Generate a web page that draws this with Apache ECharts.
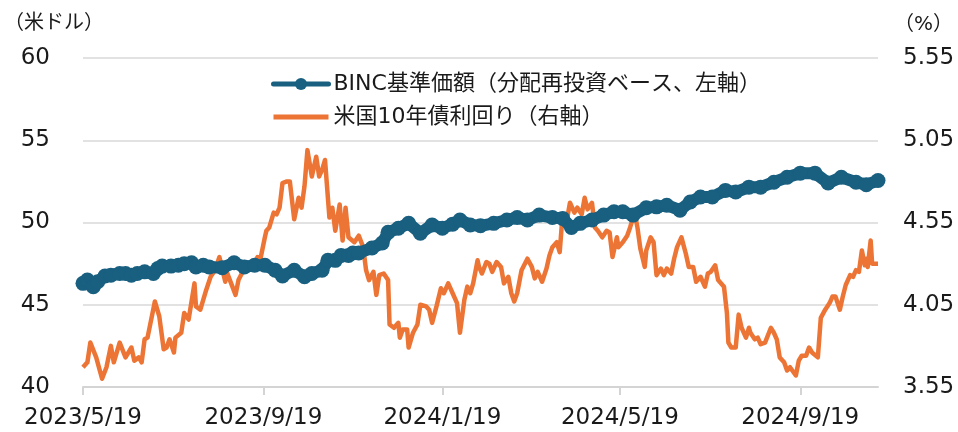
<!DOCTYPE html>
<html>
<head>
<meta charset="utf-8">
<script src="https://cdn.jsdelivr.net/npm/echarts@6/dist/echarts.min.js"></script>
<style>
  html, body { margin: 0; padding: 0; background: #fff; }
  #chart { width: 958px; height: 432px; }
</style>
</head>
<body>
<div id="chart"></div>
<script>
// BINC 基準価額（左軸, 米ドル）
var navDates = [
  '2023-05-19','2023-05-22','2023-05-26','2023-05-29','2023-06-03','2023-06-07','2023-06-13','2023-06-17',
  '2023-06-21','2023-06-25','2023-06-30','2023-07-06','2023-07-09','2023-07-12','2023-07-18','2023-07-23',
  '2023-07-27','2023-08-01','2023-08-04','2023-08-09','2023-08-13','2023-08-22','2023-08-30','2023-09-06',
  '2023-09-13','2023-09-20','2023-09-27','2023-10-02','2023-10-10','2023-10-17','2023-10-22','2023-10-29',
  '2023-11-02','2023-11-07','2023-11-11','2023-11-16','2023-11-19','2023-11-23','2023-12-02','2023-12-09',
  '2023-12-13','2023-12-20','2023-12-27','2024-01-04','2024-01-12','2024-01-19','2024-01-26','2024-01-31',
  '2024-02-07','2024-02-14','2024-02-23','2024-03-03','2024-03-10','2024-03-17','2024-03-25','2024-04-03',
  '2024-04-10','2024-04-16','2024-04-22','2024-04-30','2024-05-08','2024-05-15','2024-05-21','2024-05-28',
  '2024-06-06','2024-06-13','2024-06-20','2024-06-29','2024-07-06','2024-07-13','2024-07-21','2024-07-30',
  '2024-08-06','2024-08-15','2024-08-23','2024-09-01','2024-09-10','2024-09-19','2024-09-29','2024-10-08',
  '2024-10-17','2024-10-27','2024-11-03','2024-11-11'
];
var navValues = [
  46.3, 46.5, 46.1, 46.4, 46.75, 46.8, 46.9, 46.9,
  46.8, 46.9, 47.0, 46.9, 47.2, 47.35, 47.35, 47.4,
  47.5, 47.55, 47.3, 47.4, 47.3, 47.25, 47.55, 47.3,
  47.4, 47.4, 47.1, 46.75, 47.1, 46.7, 46.9, 47.1,
  47.7, 47.7, 48.0, 48.0, 48.15, 48.15, 48.45, 48.75,
  49.4, 49.65, 49.95, 49.35, 49.85, 49.65, 49.9, 50.15,
  49.85, 49.8, 49.95, 50.15, 50.3, 50.15, 50.45, 50.3,
  50.25, 49.7, 49.95, 50.15, 50.45, 50.65, 50.65, 50.45,
  50.9, 50.95, 51.05, 50.75, 51.25, 51.55, 51.55, 51.95,
  51.85, 52.15, 52.15, 52.45, 52.75, 53.0, 53.0, 52.4,
  52.75, 52.45, 52.3, 52.55
];

// 米国10年債利回り（右軸, %）
var yieldDates = [
  '2023-05-19','2023-05-22','2023-05-24','2023-05-28','2023-06-01','2023-06-04','2023-06-07','2023-06-09',
  '2023-06-13','2023-06-17','2023-06-21','2023-06-23','2023-06-26','2023-06-28','2023-06-30','2023-07-02',
  '2023-07-07','2023-07-10','2023-07-13','2023-07-15','2023-07-17','2023-07-20','2023-07-21','2023-07-25',
  '2023-07-27','2023-07-30','2023-08-03','2023-08-04','2023-08-07','2023-08-11','2023-08-14','2023-08-17',
  '2023-08-20','2023-08-24','2023-08-25','2023-08-28','2023-08-31','2023-09-02','2023-09-06','2023-09-08',
  '2023-09-10','2023-09-12','2023-09-15','2023-09-17','2023-09-20','2023-09-21','2023-09-23','2023-09-26',
  '2023-09-28','2023-09-30','2023-10-02','2023-10-05','2023-10-07','2023-10-10','2023-10-13','2023-10-15',
  '2023-10-17','2023-10-19','2023-10-22','2023-10-25','2023-10-27','2023-10-29','2023-10-31','2023-11-03',
  '2023-11-05','2023-11-07','2023-11-10','2023-11-12','2023-11-14','2023-11-16','2023-11-20','2023-11-23',
  '2023-11-26','2023-11-28','2023-11-30','2023-12-03','2023-12-05','2023-12-07','2023-12-10','2023-12-13',
  '2023-12-14','2023-12-17','2023-12-20','2023-12-21','2023-12-23','2023-12-26','2023-12-27','2023-12-30',
  '2024-01-02','2024-01-04','2024-01-08','2024-01-10','2024-01-12','2024-01-15','2024-01-18','2024-01-20',
  '2024-01-23','2024-01-26','2024-01-29','2024-01-31','2024-02-03','2024-02-05','2024-02-07','2024-02-09',
  '2024-02-12','2024-02-13','2024-02-15','2024-02-18','2024-02-20','2024-02-22','2024-02-25','2024-02-28',
  '2024-03-01','2024-03-04','2024-03-06','2024-03-08','2024-03-10','2024-03-13','2024-03-17','2024-03-20',
  '2024-03-22','2024-03-24','2024-03-27','2024-03-30','2024-04-01','2024-04-03','2024-04-06','2024-04-08',
  '2024-04-10','2024-04-13','2024-04-15','2024-04-18','2024-04-20','2024-04-23','2024-04-25','2024-04-27',
  '2024-04-30','2024-05-02','2024-05-04','2024-05-07','2024-05-10','2024-05-12','2024-05-14','2024-05-17',
  '2024-05-18','2024-05-21','2024-05-24','2024-05-26','2024-05-29','2024-05-31','2024-06-02','2024-06-05',
  '2024-06-06','2024-06-09','2024-06-11','2024-06-13','2024-06-16','2024-06-18','2024-06-20','2024-06-23',
  '2024-06-25','2024-06-27','2024-06-30','2024-07-03','2024-07-05','2024-07-08','2024-07-10','2024-07-13',
  '2024-07-16','2024-07-18','2024-07-20','2024-07-23','2024-07-25','2024-07-29','2024-07-31','2024-08-01',
  '2024-08-03','2024-08-06','2024-08-08','2024-08-10','2024-08-13','2024-08-15','2024-08-16','2024-08-19',
  '2024-08-21','2024-08-23','2024-08-26','2024-08-30','2024-09-01','2024-09-03','2024-09-05','2024-09-08',
  '2024-09-10','2024-09-12','2024-09-16','2024-09-18','2024-09-20','2024-09-23','2024-09-25','2024-09-27',
  '2024-10-01','2024-10-03','2024-10-06','2024-10-09','2024-10-11','2024-10-13','2024-10-16','2024-10-18',
  '2024-10-20','2024-10-23','2024-10-25','2024-10-27','2024-10-29','2024-10-31','2024-11-02','2024-11-03',
  '2024-11-04','2024-11-06','2024-11-07','2024-11-11'
];
var yieldValues = [
  3.67, 3.70, 3.82, 3.73, 3.60, 3.67, 3.80, 3.70,
  3.82, 3.73, 3.79, 3.71, 3.73, 3.70, 3.84, 3.85,
  4.07, 3.98, 3.78, 3.79, 3.84, 3.76, 3.85, 3.88,
  4.00, 3.96, 4.18, 4.04, 4.02, 4.14, 4.22, 4.26,
  4.34, 4.19, 4.25, 4.18, 4.11, 4.20, 4.27, 4.28,
  4.30, 4.29, 4.34, 4.33, 4.46, 4.50, 4.52, 4.61,
  4.60, 4.64, 4.79, 4.80, 4.80, 4.57, 4.70, 4.64,
  4.77, 4.99, 4.83, 4.95, 4.83, 4.87, 4.93, 4.58,
  4.64, 4.50, 4.66, 4.44, 4.64, 4.46, 4.43, 4.47,
  4.40, 4.26, 4.20, 4.25, 4.11, 4.23, 4.24, 4.20,
  3.93, 3.91, 3.94, 3.85, 3.90, 3.90, 3.79, 3.88,
  3.93, 4.05, 4.04, 4.02, 3.94, 4.04, 4.15, 4.12,
  4.18, 4.12, 4.06, 3.88, 4.08, 4.16, 4.12, 4.18,
  4.32, 4.28, 4.24, 4.31, 4.30, 4.25, 4.31, 4.28,
  4.18, 4.22, 4.12, 4.07, 4.12, 4.26, 4.33, 4.28,
  4.21, 4.25, 4.19, 4.27, 4.35, 4.40, 4.43, 4.37,
  4.60, 4.57, 4.67, 4.61, 4.64, 4.60, 4.70, 4.63,
  4.67, 4.52, 4.50, 4.46, 4.50, 4.49, 4.34, 4.46,
  4.40, 4.43, 4.47, 4.52, 4.61, 4.52, 4.39, 4.28,
  4.38, 4.46, 4.43, 4.23, 4.27, 4.23, 4.27, 4.24,
  4.33, 4.40, 4.46, 4.36, 4.28, 4.28, 4.19, 4.22,
  4.16, 4.24, 4.25, 4.29, 4.20, 4.16, 4.00, 3.82,
  3.79, 3.79, 3.99, 3.91, 3.85, 3.91, 3.88, 3.84,
  3.85, 3.81, 3.82, 3.91, 3.88, 3.84, 3.73, 3.70,
  3.65, 3.67, 3.62, 3.71, 3.74, 3.74, 3.79, 3.76,
  3.73, 3.97, 4.02, 4.06, 4.10, 4.10, 4.02, 4.10,
  4.17, 4.23, 4.22, 4.26, 4.25, 4.38, 4.29, 4.33,
  4.28, 4.44, 4.30, 4.30
];

var xTickDates = ['2023-05-19', '2023-09-19', '2024-01-19', '2024-05-19', '2024-09-19'];
var xEndDate = '2024-11-11';
var navName = 'BINC基準価額（分配再投資ベース、左軸）';
var yieldName = '米国10年債利回り（右軸）';

var BLUE = '#185f80';
var ORANGE = '#ec7434';
var TEXT = '#1a1a1a';
var FONT = '"DejaVu Sans", "Noto Sans CJK JP", sans-serif';

function stamp(d) { return +echarts.number.parseDate(d); }
function toPairs(dates, values) {
  return dates.map(function (d, i) { return [stamp(d), values[i]]; });
}
var tickStamps = xTickDates.map(stamp);

var chart = echarts.init(document.getElementById('chart'));
chart.setOption({
  animation: false,
  textStyle: { fontFamily: FONT, color: TEXT },
  grid: { left: 83, right: 80, top: 58, bottom: 45 },
  legend: {
    orient: 'vertical',
    left: 266,
    top: 68,
    itemWidth: 55,
    itemHeight: 15,
    itemGap: 11,
    textStyle: { fontSize: 22, color: TEXT, fontFamily: FONT },
    data: [
      { name: navName, lineStyle: { width: 5, color: BLUE }, itemStyle: { color: BLUE } },
      // 利回りは線のみ（マーカーなし）
      { name: yieldName, lineStyle: { width: 5, color: ORANGE }, itemStyle: { opacity: 0 } }
    ]
  },
  graphic: [
    { type: 'text', left: 4, top: 14, style: { text: '（米ドル）', fontSize: 20, fill: TEXT, fontFamily: FONT } },
    { type: 'text', right: 5, top: 15, style: { text: '（%）', fontSize: 20, fill: TEXT, fontFamily: FONT } }
  ],
  xAxis: {
    type: 'value',
    min: tickStamps[0],
    max: stamp(xEndDate),
    axisLine: { lineStyle: { color: '#d4d4d4', width: 2 } },
    axisTick: { show: true, length: 8, customValues: tickStamps, lineStyle: { color: '#d4d4d4', width: 2 } },
    splitLine: { show: false },
    axisLabel: {
      customValues: tickStamps,
      fontSize: 23,
      color: TEXT,
      margin: 20,
      formatter: function (v) {
        var d = new Date(v);
        return d.getFullYear() + '/' + (d.getMonth() + 1) + '/' + d.getDate();
      }
    }
  },
  yAxis: [
    {
      type: 'value',
      min: 40,
      max: 60,
      interval: 5,
      axisLine: { show: false },
      axisTick: { show: false },
      splitLine: { lineStyle: { color: '#d9d9d9', width: 1.5 } },
      axisLabel: { fontSize: 23, color: TEXT, margin: 33 }
    },
    {
      type: 'value',
      min: 3.55,
      max: 5.55,
      interval: 0.5,
      axisLine: { show: false },
      axisTick: { show: false },
      splitLine: { show: false },
      axisLabel: {
        fontSize: 23,
        color: TEXT,
        margin: 25,
        formatter: function (v) { return v.toFixed(2); }
      }
    }
  ],
  series: [
    {
      name: yieldName,
      type: 'line',
      yAxisIndex: 1,
      data: toPairs(yieldDates, yieldValues),
      symbol: 'none',
      lineStyle: { color: ORANGE, width: 4.5, join: 'round' },
      itemStyle: { color: ORANGE },
      z: 2
    },
    {
      name: navName,
      type: 'line',
      yAxisIndex: 0,
      data: toPairs(navDates, navValues),
      symbol: 'circle',
      symbolSize: 15,
      showSymbol: true,
      showAllSymbol: true,
      lineStyle: { color: BLUE, width: 12, join: 'round', cap: 'round' },
      itemStyle: { color: BLUE, borderWidth: 0 },
      z: 3
    }
  ]
});
</script>
</body>
</html>
